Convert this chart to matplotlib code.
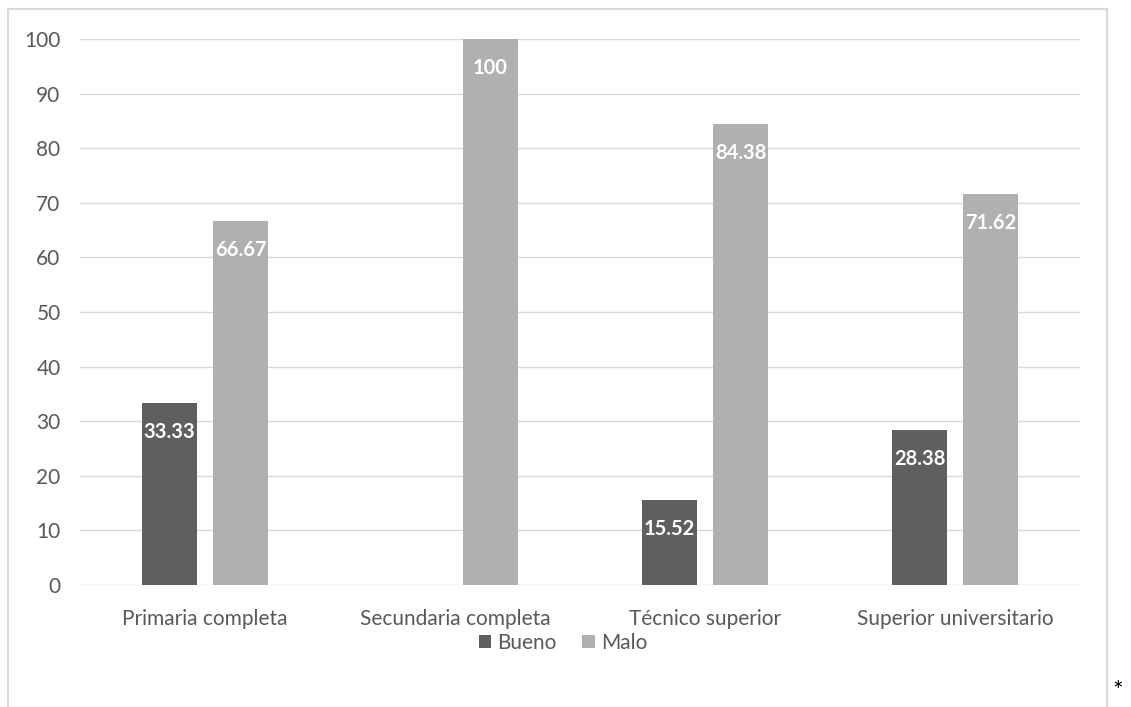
import matplotlib
matplotlib.use("Agg")
import matplotlib.pyplot as plt
import numpy as np
from matplotlib.patches import Rectangle

# datos
categorias = ["Primaria completa", "Secundaria completa", "Técnico superior", "Superior universitario"]
bueno = [33.33, 0, 15.52, 28.38]
malo = [66.67, 100, 84.38, 71.62]
series = ["Bueno", "Malo"]

color_bueno = "#5f5f5f"
color_malo = "#b0b0b0"
texto_gris = "#595959"

plt.rcParams["font.family"] = ["Lato", "DejaVu Sans"]

W, H = 1131, 707
fig = plt.figure(figsize=(W / 100, H / 100), dpi=100)
ax = fig.add_axes([80 / W, 122 / H, 1000 / W, 546 / H])

x = np.arange(len(categorias))
ancho = 0.22
off = 0.142
b1 = ax.bar(x - off, bueno, ancho, color=color_bueno, label=series[0], zorder=2)
b2 = ax.bar(x + off, malo, ancho, color=color_malo, label=series[1], zorder=2)

# etiquetas de datos
for barras, vals in ((b1, bueno), (b2, malo)):
    for r, v in zip(barras, vals):
        if v == 0:
            continue
        ax.annotate(f"{v:g}", (r.get_x() + r.get_width() / 2, v),
                    xytext=(0, -21), textcoords="offset points",
                    ha="center", va="center", color="white",
                    fontsize=14.5, fontweight="bold", zorder=3)

ax.set_xlim(-0.5, 3.5)
ax.set_ylim(0, 100)
ax.set_yticks(range(0, 101, 10))
ax.set_xticks(x)
ax.set_xticklabels(categorias)
ax.tick_params(axis="both", length=0, colors=texto_gris, labelsize=15)
ax.tick_params(axis="y", pad=14)
ax.tick_params(axis="x", pad=17)
ax.grid(axis="y", color="#d9d9d9", linewidth=1, zorder=0)
for s in ax.spines.values():
    s.set_visible(False)

fig.legend(handles=[b1, b2], labels=series, loc="center",
           bbox_to_anchor=(563 / W, 1 - 643 / H), ncol=2, frameon=False,
           fontsize=15, labelcolor=texto_gris, handlelength=0.6,
           handleheight=0.6, handletextpad=0.3, columnspacing=1.2)

# borde del área del gráfico
fig.patches.append(Rectangle((8 / W, -0.02), 1099 / W, 1.02 - 9 / H,
                             transform=fig.transFigure, fill=False,
                             edgecolor="#d9d9d9", linewidth=1.5))

fig.text(1118 / W, 1 - 691 / H, "*", ha="center", va="center", fontsize=18, color="black")

fig.savefig("out.png", dpi=100)
